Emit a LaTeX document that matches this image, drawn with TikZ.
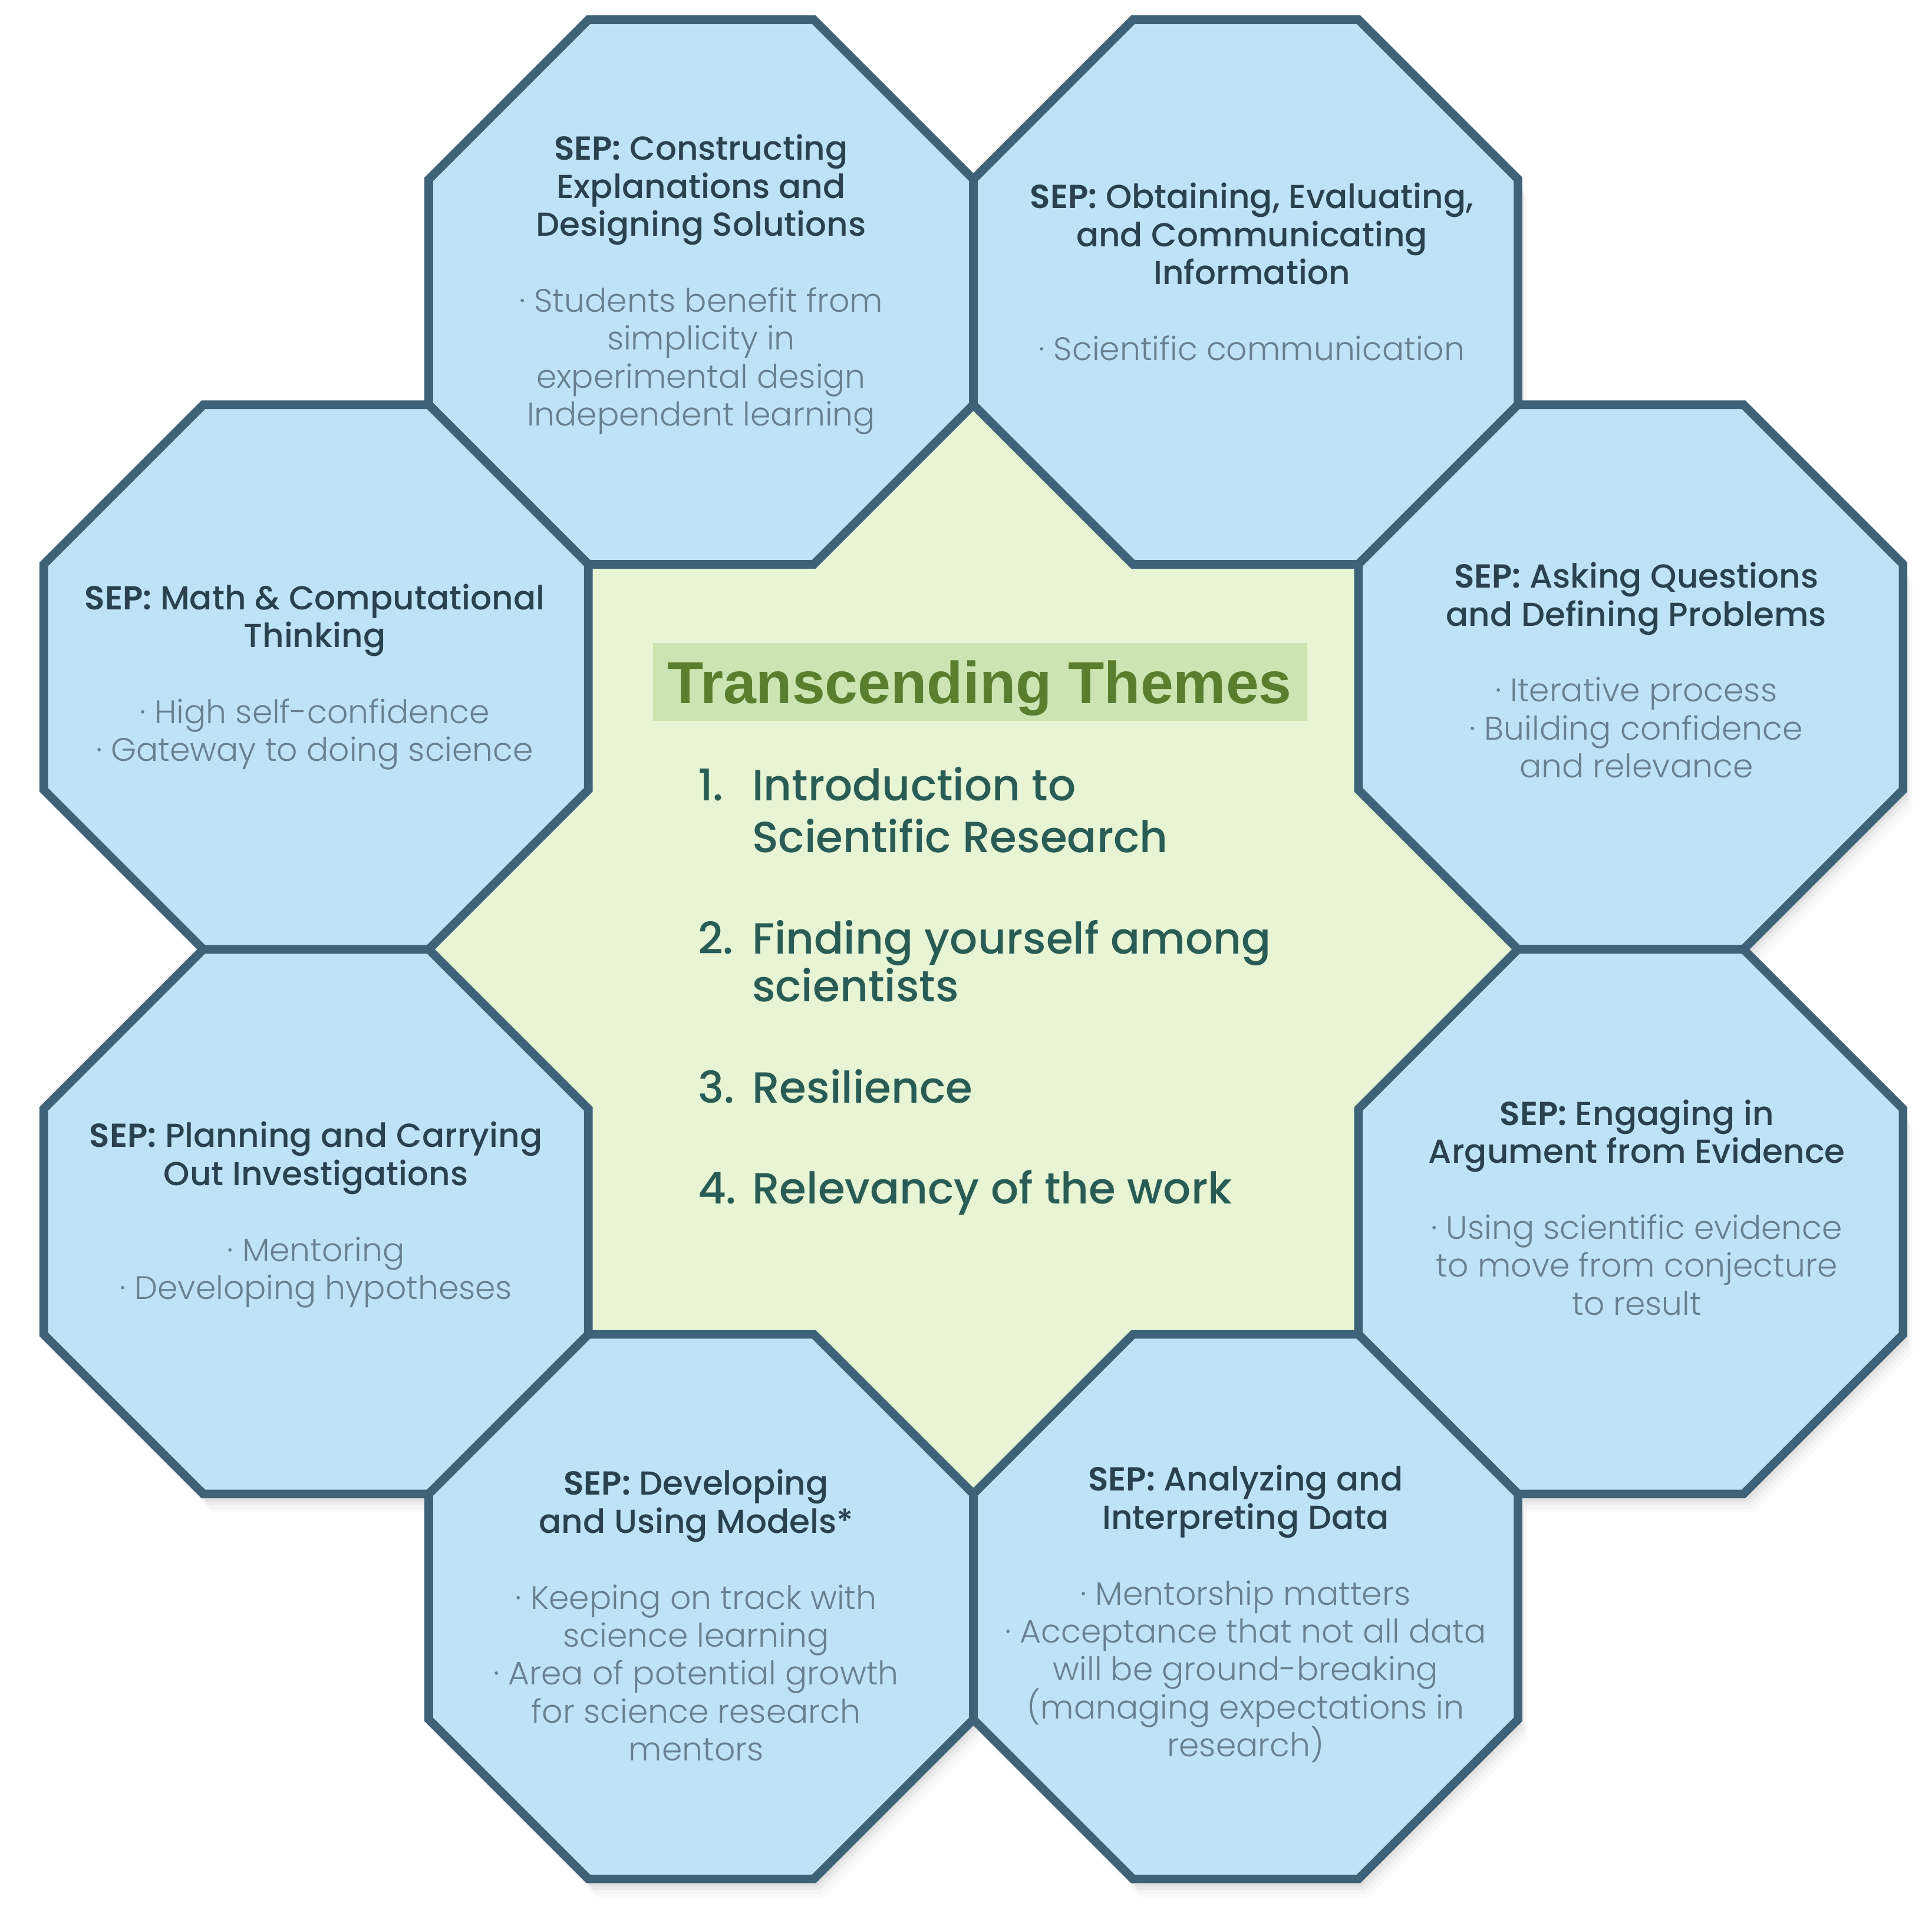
\documentclass[tikz,border=0pt]{standalone}
\usepackage{fontspec}
\setmainfont{Poppins}
\newfontfamily\pmed{Poppins Medium}
\newfontfamily\plight{Poppins Light}
\newfontfamily\psemi{Poppins SemiBold}
\newfontfamily\titlef{Liberation Sans}
\definecolor{octfill}{RGB}{190,227,246}
\definecolor{octline}{RGB}{62,98,120}
\definecolor{greenbg}{RGB}{231,245,212}
\definecolor{titlebox}{RGB}{204,228,178}
\definecolor{titletext}{RGB}{90,126,46}
\definecolor{listtext}{RGB}{42,92,86}
\definecolor{headtext}{RGB}{42,66,80}
\definecolor{bultext}{RGB}{102,128,143}
\newcommand{\sephd}{{\psemi SEP:}}
\newcommand{\bl}[1]{{\plight\fontsize{13.2}{15.4}\selectfont\color{bultext}#1}}
\newcommand{\tightlines}{\lineskiplimit=-20pt\relax\lineskip=0pt\relax}
\begin{document}
\begin{tikzpicture}[x=0.5pt,y=0.5pt,
  octbox/.style={fill=octfill,draw=octline,line width=3.5pt,line join=miter},
  septext/.style={align=center,text=headtext,inner sep=0pt,
    font=\pmed\fontsize{13.5}{15.4}\selectfont\tightlines},
  listline/.style={anchor=base west,inner sep=0pt,text=listtext,
    font=\pmed\fontsize{17.7}{20.5}\selectfont},
  titlenode/.style={anchor=base,inner sep=0pt,text=titletext,
    font=\titlef\bfseries\fontsize{24}{28}\selectfont}]
\useasboundingbox (-790,-784.5) rectangle (778,770.5);
% octagon centres
\coordinate (o1) at (-221,533.5);
\coordinate (o2) at (221,533.5);
\coordinate (o3) at (533.5,221);
\coordinate (o4) at (533.5,-221);
\coordinate (o5) at (221,-533.5);
\coordinate (o6) at (-221,-533.5);
\coordinate (o7) at (-533.5,-221);
\coordinate (o8) at (-533.5,221);
% soft shadows
\foreach \c in {o1,o2,o3,o4,o5,o6,o7,o8}{
  \foreach \d/\op in {3/0.05,6/0.04,9/0.035,12/0.025,15/0.02}{
    \fill[black,opacity=\op,shift={(\c)},shift={(0.5*\d,-\d)}]
      (-91.5,221) -- (91.5,221) -- (221,91.5) -- (221,-91.5) -- (91.5,-221)
      -- (-91.5,-221) -- (-221,-91.5) -- (-221,91.5) -- cycle;
  }
}
% central green area
\fill[greenbg] (-312.5,-312.5) rectangle (312.5,312.5);
\fill[greenbg] (0,442) -- (442,0) -- (0,-442) -- (-442,0) -- cycle;
% octagons
\foreach \c in {o1,o2,o3,o4,o5,o6,o7,o8}{
  \draw[octbox,shift={(\c)}]
    (-91.5,221) -- (91.5,221) -- (221,91.5) -- (221,-91.5) -- (91.5,-221)
    -- (-91.5,-221) -- (-221,-91.5) -- (-221,91.5) -- cycle;
}
% title
\fill[titlebox] (-260,185.5) rectangle (271,248.5);
\node[titlenode] (title) at (5,199.5) {Transcending Themes};
% list
\node[listline] (n1) at (-224,120.5) {1.};
\node[listline] (l1a) at (-180,120.5) {Introduction to};
\node[listline] (l1b) at (-180,78.5) {Scientific Research};
\node[listline] (n2) at (-224,-3.5) {2.};
\node[listline] (l2a) at (-180,-3.5) {Finding yourself among};
\node[listline] (l2b) at (-180,-42.5) {scientists};
\node[listline] (n3) at (-224,-124.5) {3.};
\node[listline] (l3a) at (-180,-124.5) {Resilience};
\node[listline] (n4) at (-224,-206.5) {4.};
\node[listline] (l4a) at (-180,-206.5) {Relevancy of the work};
% octagon texts
\node[septext] (t1) at (-221,539.5) {\sephd{} Constructing\\ Explanations and\\ Designing Solutions\\[15.4pt]
  \bl{· Students benefit from}\\ \bl{simplicity in}\\ \bl{experimental design}\\ \bl{Independent learning}};
\node[septext] (t2) at (226,550) {\sephd{} Obtaining, Evaluating,\\ and Communicating\\ Information\\[15.4pt]
  \bl{· Scientific communication}};
\node[septext] (t3) at (538,226.5) {\sephd{} Asking Questions\\ and Defining Problems\\[15.4pt]
  \bl{· Iterative process}\\ \bl{· Building confidence}\\ \bl{and relevance}};
\node[septext] (t4) at (538.5,-209.5) {\sephd{} Engaging in\\ Argument from Evidence\\[15.4pt]
  \bl{· Using scientific evidence}\\ \bl{to move from conjecture}\\ \bl{to result}};
\node[septext] (t5) at (221,-539.5) {\sephd{} Analyzing and\\ Interpreting Data\\[15.4pt]
  \bl{· Mentorship matters}\\ \bl{· Acceptance that not all data}\\ \bl{will be ground-breaking}\\ \bl{(managing expectations in}\\ \bl{research)}};
\node[septext] (t6) at (-225,-540.5) {\sephd{} Developing\\ and Using Models*\\[15.4pt]
  \bl{· Keeping on track with}\\ \bl{science learning}\\ \bl{· Area of potential growth}\\ \bl{for science research}\\ \bl{mentors}};
\node[septext] (t7) at (-533.5,-215.5) {\sephd{} Planning and Carrying\\ Out Investigations\\[15.4pt]
  \bl{· Mentoring}\\ \bl{· Developing hypotheses}};
\node[septext] (t8) at (-534.5,221) {\sephd{} Math \& Computational\\ Thinking\\[15.4pt]
  \bl{· High self-confidence}\\ \bl{· Gateway to doing science}};
\end{tikzpicture}
\end{document}
